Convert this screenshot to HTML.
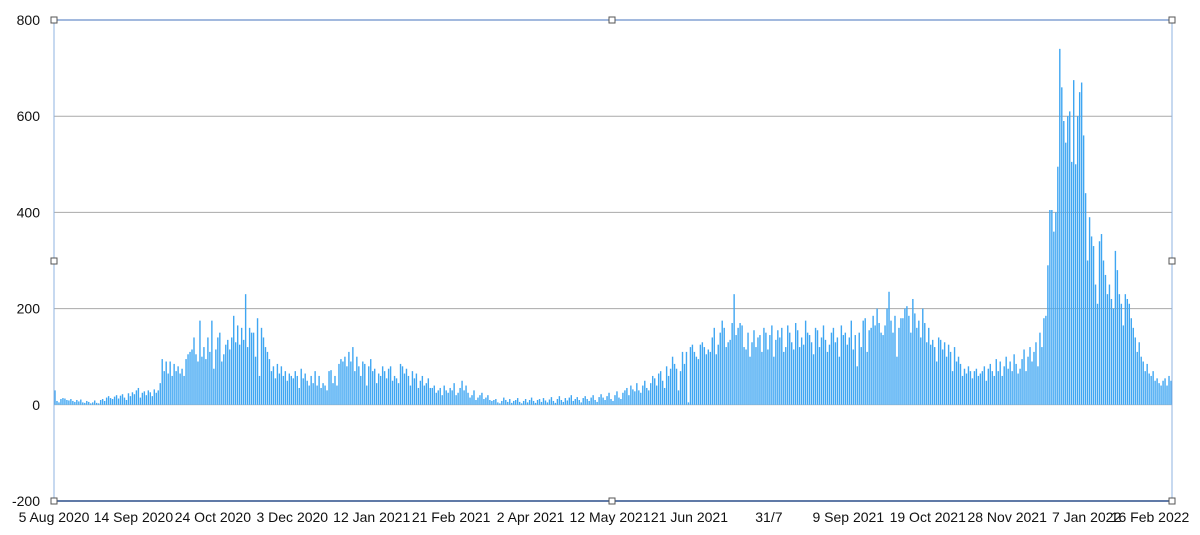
<!DOCTYPE html>
<html><head><meta charset="utf-8"><style>
body{margin:0;background:#fff;}
svg{display:block;font-family:"Liberation Sans",sans-serif;}
</style></head><body>
<svg id="chart" width="1200" height="535">
<g id="grid"></g><g id="bars"></g><g id="frame"></g><g id="ylab"></g><g id="xlab"></g>
</svg>
<script>
const values = [30,8,5,12,14,13,10,9,12,8,6,10,7,11,5,4,8,6,3,5,9,4,3,10,12,8,15,18,14,12,17,20,13,19,22,15,10,24,18,26,22,30,35,15,25,28,20,30,26,18,
32,25,30,45,95,70,90,65,
90,60,85,70,80,65,75,60,95,105,110,115,140,105,90,175,100,120,95,140,110,175,75,115,140,150,90,105,125,135,115,140,185,130,165,125,160,135,230,120,160,150,
150,100,180,60,160,140,120,110,95,70,80,55,85,65,80,60,70,50,65,60,
55,70,60,35,75,55,65,50,40,60,45,70,40,60,35,45,40,30,70,72,
45,60,40,85,95,90,100,80,110,90,120,70,100,80,60,90,85,40,80,95,
70,75,45,65,60,80,70,55,75,80,50,60,55,45,85,80,65,75,60,40,70,55,65,35,50,60,40,45,55,35,
35,40,25,30,35,20,40,30,25,35,30,45,20,25,35,50,30,40,25,15,20,30,10,15,20,25,12,15,20,10,
8,10,12,5,3,8,15,10,6,12,4,8,10,14,6,3,8,12,5,10,15,8,4,10,12,6,14,9,5,11,16,8,4,12,18,10,6,14,9,15,20,8,12,16,10,5,14,18,12,8,15,20,10,6,16,
22,15,10,18,25,12,8,20,28,15,12,25,30,35,20,40,32,28,45,30,25,40,50,35,30,
45,60,55,40,65,70,50,35,80,60,75,100,85,75,30,70,110,85,110,5,
120,125,110,100,95,125,130,120,105,115,110,140,160,105,125,150,175,160,120,130,135,170,
230,
145,160,170,165,120,115,150,100,130,155,120,140,145,110,160,150,115,145,165,100,135,155,140,160,110,120,165,150,130,115,170,155,120,140,125,175,150,145,130,105,160,155,120,140,165,135,110,125,150,160,130,140,100,165,145,150,125,
140,175,115,145,80,150,120,175,180,110,155,160,185,165,200,170,150,145,165,200,235,175,150,185,100,160,180,180,200,205,185,150,220,190,160,175,140,200,170,130,
160,125,135,120,90,140,135,115,130,100,125,110,70,120,90,100,85,60,75,65,80,70,55,70,75,60,65,70,80,50,
75,85,70,60,95,70,90,60,80,100,75,90,70,105,85,65,75,95,115,70,100,120,90,110,130,80,150,120,180,185,
290,405,405,360,400,495,740,660,590,545,600,610,505,675,500,600,650,670,560,440,300,390,350,330,250,
210,340,355,300,270,230,250,220,200,320,280,230,210,165,230,220,210,180,160,140,110,130,100,90,70,85,65,60,70,50,55,45,40,50,55,40,60,50];
const xLabels = ["5 Aug 2020","14 Sep 2020","24 Oct 2020","3 Dec 2020","12 Jan 2021","21 Feb 2021","2 Apr 2021","12 May 2021","21 Jun 2021","31/7","9 Sep 2021","19 Oct 2021","28 Nov 2021","7 Jan 2022","16 Feb 2022"];
const yTicks = [-200,0,200,400,600,800];
const NS="http://www.w3.org/2000/svg";
const L=54,R=1172,T=20,B=501,N=values.length;
const y=v=>T+(800-v)*(B-T)/1000;
const x=i=>L+(i+0.5)*(R-L)/N;
const xd=d=>L+d*(R-L)/N;
function mk(tag,attrs,parent){const e=document.createElementNS(NS,tag);for(const k in attrs)e.setAttribute(k,attrs[k]);document.getElementById(parent).appendChild(e);return e;}
yTicks.forEach(t=>{
  if(t>-200&&t<800){const g=mk('line',{x1:L,x2:R,y1:y(t),y2:y(t),stroke:t===0?'#c8c8c8':'#a9a9a9','stroke-width':1},'grid');
  
  }
  const tx=mk('text',{x:40,y:y(t)+5,'text-anchor':'end','font-size':14,fill:'#111'},'ylab');
  tx.textContent=t;
  
  
});
values.forEach((v,i)=>{
  const r=mk('rect',{x:x(i)-0.7,y:Math.min(y(v),y(0)),width:1.4,height:Math.abs(y(0)-y(v)),fill:'#3fa6f2'},'bars');
  
  
});
xLabels.forEach((s,k)=>{
  const tx=mk('text',{x:Math.min(xd(k*40),1150),y:522,'text-anchor':'middle','font-size':14,fill:'#111'},'xlab');
  tx.textContent=s;
  
  
});
const topLine=mk('line',{x1:L,x2:R,y1:T,y2:T,stroke:'#6a8fc9','stroke-width':1.2},'frame');


const botLine=mk('line',{x1:L,x2:R,y1:B,y2:B,stroke:'#2c4f8a','stroke-width':1.6},'frame');


[L,R].forEach(xx=>{const s=mk('line',{x1:xx,x2:xx,y1:T,y2:B,stroke:'#8fb3e0','stroke-width':1},'frame');

});
[[L,T],[612,T],[R,T],[L,261],[R,261],[L,B],[612,B],[R,B]].forEach(p=>{
  const h=mk('rect',{x:p[0]-3,y:p[1]-3,width:6,height:6,fill:'#fff',stroke:'#555','stroke-width':1},'frame');
  
  
});
</script>
</body></html>
